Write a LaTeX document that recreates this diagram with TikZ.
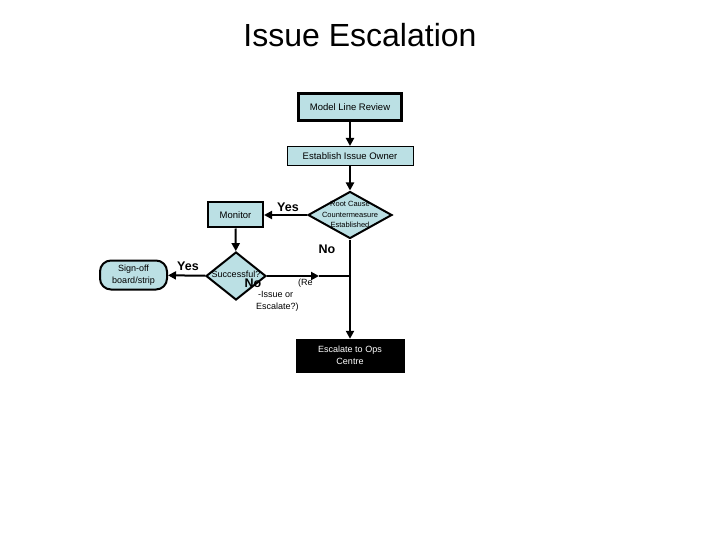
\documentclass[tikz,border=0pt]{standalone}
\usepackage{fontspec}
\setmainfont{Liberation Sans}
\usetikzlibrary{arrows.meta,shapes.geometric}
\definecolor{boxblue}{RGB}{187,224,228}
\tikzset{
  conn/.style={line width=2pt,-{Triangle[length=8pt,width=8pt]}},
  plainline/.style={line width=2pt},
  procbox/.style={draw,fill=boxblue,line width=2pt,inner sep=0pt,align=center,font=\fontsize{9.5}{11}\selectfont},
  dia/.style={draw,fill=boxblue,diamond,line width=2pt,inner sep=0pt},
  smalltxt/.style={inner sep=0pt,align=center},
  yn/.style={inner sep=0pt,font=\fontsize{12.5}{14}\selectfont\bfseries},
}
\begin{document}
\begin{tikzpicture}[x=1pt,y=-1pt]
\useasboundingbox (0,0) rectangle (720,540);
\node[inner sep=0pt,font=\fontsize{32}{38}\selectfont] (title) at (360,35) {Issue Escalation};

\node[procbox,line width=3pt,minimum width=103pt,minimum height=27pt] (mlr) at (350,107) {Model Line Review};
\node[procbox,line width=1pt,minimum width=126pt,minimum height=19pt] (eio) at (350,156) {Establish Issue Owner};
\node[dia,minimum width=84pt,minimum height=47pt] (rc) at (350,215) {};
\node[smalltxt,font=\fontsize{7.5}{10.5}\selectfont] (rctext) at (350,214.5) {Root Cause\\Countermeasure\\Established};
\node[procbox,minimum width=55pt,minimum height=25pt] (mon) at (235.5,215) {Monitor};
\node[dia,minimum width=60pt,minimum height=48pt] (succ) at (236,276) {};
\node[smalltxt,font=\fontsize{9}{11}\selectfont] (succtext) at (236,274) {Successful?};
\node[procbox,rounded corners=11pt,minimum width=67pt,minimum height=29pt,font=\fontsize{9}{12}\selectfont] (sign) at (133.5,275) {Sign-off\\board/strip};
\node[draw,fill=black,text=white,inner sep=0pt,align=center,minimum width=108pt,minimum height=33pt,font=\fontsize{9}{12}\selectfont] (esc) at (350,355.5) {Escalate to Ops\\Centre};

\coordinate (j) at (350,276);
\coordinate (mid) at (319,276);

\draw[conn] (mlr) -- (eio);
\draw[conn] (eio) -- (rc);
\draw[conn] (rc) -- (mon);
\draw[conn] (rc) -- (esc);
\draw[conn] (mon) -- (succ);
\draw[conn] (succ) -- (sign);
\draw[conn] (succ.east) -- (mid);
\draw[plainline] (mid) -- (j);

\node[yn] (yes1) at (288,207) {Yes};
\node[yn] (no1) at (327,249) {No};
\node[yn] (yes2) at (188,266) {Yes};
\node[yn] (no2) at (253,283) {No};
\node[inner sep=0pt,anchor=north west,align=left,font=\fontsize{9}{12}\selectfont] (reissue) at (256,279) {\hspace*{42pt}(Re\\\hspace*{2pt}-Issue or\\Escalate?)};
\end{tikzpicture}
\end{document}
